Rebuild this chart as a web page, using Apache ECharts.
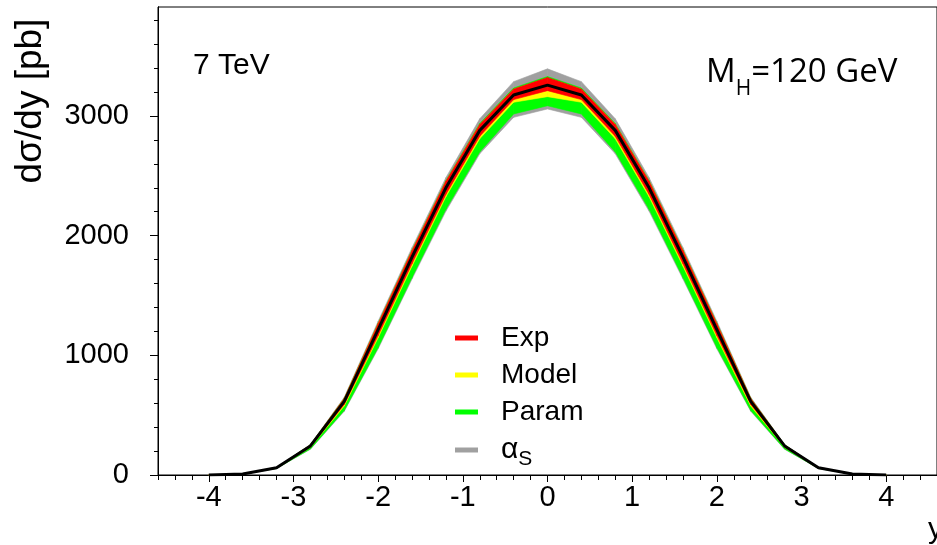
<!DOCTYPE html>
<html>
<head>
<meta charset="utf-8">
<script src="https://cdn.jsdelivr.net/npm/echarts@6/dist/echarts.min.js"></script>
<style>
    html, body { margin: 0; padding: 0; background: #fff; }
    #main { width: 937px; height: 545px; }
</style>
</head>
<body>
<div id="main"></div>
<script>
// rapidity points and d(sigma)/dy [pb]
var rapidity = [-4, -3.6, -3.2, -2.8, -2.4, -2, -1.6, -1.2, -0.8, -0.4, 0, 0.4, 0.8, 1.2, 1.6, 2, 2.4, 2.8, 3.2, 3.6, 4];
var central = [1, 8, 60, 243, 615, 1215, 1820, 2400, 2880, 3176, 3258, 3176, 2880, 2400, 1820, 1215, 615, 243, 60, 8, 1];
// band edges (lower / upper)
var alphaLo = [1, 7, 54, 215, 533, 1055, 1638, 2205, 2685, 2989, 3059, 2989, 2685, 2205, 1638, 1055, 533, 215, 54, 7, 1];
var alphaHi = [1, 8, 63, 255, 650, 1285, 1900, 2485, 2977, 3287, 3394, 3287, 2977, 2485, 1900, 1285, 650, 255, 63, 8, 1];
var paramLo = [1, 7, 55, 218, 540, 1065, 1650, 2220, 2700, 3017, 3086, 3017, 2700, 2220, 1650, 1065, 540, 218, 55, 7, 1];
var paramHi = [1, 8, 62, 252, 642, 1268, 1879, 2460, 2937, 3234, 3330, 3234, 2937, 2460, 1879, 1268, 642, 252, 62, 8, 1];
var modelLo = [1, 8, 57, 231, 577, 1147, 1745, 2325, 2810, 3115, 3162, 3115, 2810, 2325, 1745, 1147, 577, 231, 57, 8, 1];
var modelHi = [1, 8, 62, 250, 638, 1263, 1873, 2453, 2928, 3223, 3316, 3223, 2928, 2453, 1873, 1263, 638, 250, 62, 8, 1];
var expLo = [1, 8, 58, 235, 590, 1165, 1765, 2345, 2830, 3137, 3212, 3137, 2830, 2345, 1765, 1165, 590, 235, 58, 8, 1];
var expHi = [1, 8, 62, 251, 640, 1265, 1875, 2455, 2930, 3226, 3322, 3226, 2930, 2455, 1875, 1265, 640, 251, 62, 8, 1];

var xMajor = [-4, -3, -2, -1, 0, 1, 2, 3, 4];
var xMinor = [-4.6, -4.4, -4.2, -4, -3.8, -3.6, -3.4, -3.2, -3, -2.8, -2.6, -2.4, -2.2, -2, -1.8, -1.6, -1.4, -1.2, -1, -0.8, -0.6, -0.4, -0.2, 0,
    0.2, 0.4, 0.6, 0.8, 1, 1.2, 1.4, 1.6, 1.8, 2, 2.2, 2.4, 2.6, 2.8, 3, 3.2, 3.4, 3.6, 3.8, 4, 4.2, 4.4, 4.6];
var yMajor = [0, 1000, 2000, 3000];
var yMinor = [200, 400, 600, 800, 1200, 1400, 1600, 1800, 2200, 2400, 2600, 2800, 3200, 3400, 3600, 3800];

var chart = echarts.init(document.getElementById('main'));
var font = '"Liberation Sans", Arial, sans-serif';

// band segments: [x0, lo0, hi0, x1, lo1, hi1]
function segments(lo, hi) {
    var out = [];
    for (var i = 0; i < rapidity.length - 1; i++) {
        out.push([rapidity[i], lo[i], hi[i], rapidity[i + 1], lo[i + 1], hi[i + 1]]);
    }
    return out;
}

function band(name, lo, hi, color) {
    return {
        name: name,
        type: 'custom',
        silent: true,
        itemStyle: { color: color },
        encode: { x: [0, 3], y: [1, 2, 4, 5] },
        renderItem: function (params, api) {
            var pts = [
                api.coord([api.value(0), api.value(2)]),
                api.coord([api.value(3), api.value(5)]),
                api.coord([api.value(3), api.value(4)]),
                api.coord([api.value(0), api.value(1)])
            ];
            return {
                type: 'polygon',
                shape: { points: pts },
                style: { fill: color, stroke: color, lineWidth: 0.6 }
            };
        },
        data: segments(lo, hi)
    };
}

var series = [
    band('alpha', alphaLo, alphaHi, '#a0a0a0'),
    band('Param', paramLo, paramHi, '#00ff00'),
    band('Model', modelLo, modelHi, '#ffff00'),
    band('Exp', expLo, expHi, '#ff0000'),
    {
        name: 'central',
        type: 'line',
        symbol: 'none',
        silent: true,
        lineStyle: { color: '#000', width: 3 },
        data: rapidity.map(function (x, i) { return [x, central[i]]; })
    }
];

var xBase = {
    type: 'value',
    min: -4.6,
    max: 4.6,
    splitLine: { show: false },
    axisLine: { show: true, onZero: false, lineStyle: { color: '#000', width: 1 } }
};
var yBase = {
    type: 'value',
    min: 0,
    max: 3911,
    splitLine: { show: false },
    axisLine: { show: true, onZero: false, lineStyle: { color: '#000', width: 1 } }
};

chart.setOption({
    animation: false,
    backgroundColor: '#fff',
    grid: {
        left: 158,
        right: -7,
        top: 7,
        bottom: 70,
        show: true,
        borderColor: '#000',
        borderWidth: 1
    },
    xAxis: [
        Object.assign({}, xBase, {
            position: 'bottom',
            axisTick: { show: true, inside: false, length: 7, customValues: xMajor, lineStyle: { color: '#000' } },
            axisLabel: {
                show: true, customValues: xMajor, margin: 8, color: '#000', fontSize: 29, fontFamily: font,
                formatter: function (v) { return String(v); }
            }
        }),
        Object.assign({}, xBase, {
            position: 'bottom',
            axisTick: { show: true, inside: false, length: 5, customValues: xMinor, lineStyle: { color: '#000' } },
            axisLabel: { show: false }
        })
    ],
    yAxis: [
        Object.assign({}, yBase, {
            position: 'left',
            axisTick: { show: true, inside: false, length: 8, customValues: yMajor, lineStyle: { color: '#000' } },
            axisLabel: {
                show: true, customValues: yMajor, margin: 29, color: '#000', fontSize: 29, fontFamily: font,
                formatter: function (v) { return String(v); }
            }
        }),
        Object.assign({}, yBase, {
            position: 'left',
            axisTick: { show: true, inside: false, length: 4, customValues: yMinor, lineStyle: { color: '#000' } },
            axisLabel: { show: false }
        })
    ],
    legend: {
        orient: 'vertical',
        left: 450,
        top: 319,
        itemWidth: 23,
        itemHeight: 5,
        itemGap: 9,
        selectedMode: false,
        itemStyle: { borderWidth: 0 },
        textStyle: {
            color: '#000',
            fontSize: 28,
            fontFamily: font,
            lineHeight: 28,
            padding: [0, 0, 0, 18],
            rich: {
                a: { fontSize: 30, fontFamily: font, color: '#000' },
                s: { fontSize: 21, fontFamily: font, color: '#000', padding: [19, 0, 0, 0] }
            }
        },
        formatter: function (name) {
            return name === 'alpha' ? '{a|α}{s|S}' : name;
        },
        data: [
            { name: 'Exp', icon: 'rect' },
            { name: 'Model', icon: 'rect' },
            { name: 'Param', icon: 'rect' },
            { name: 'alpha', icon: 'rect' }
        ]
    },
    graphic: [{
        type: 'text',
        x: 31,
        y: 101,
        rotation: Math.PI / 2,
        style: {
            text: 'dσ/dy [pb]',
            font: '37px ' + font,
            fill: '#000',
            align: 'center',
            verticalAlign: 'middle'
        }
    }, {
        type: 'text',
        x: 193,
        y: 66,
        style: {
            text: '7 TeV',
            font: '30px ' + font,
            fill: '#000',
            align: 'left',
            verticalAlign: 'middle'
        }
    }, {
        type: 'text',
        x: 706,
        y: 73,
        style: {
            text: '{m|M}{h|H}{m|=120 GeV}',
            fill: '#000',
            align: 'left',
            verticalAlign: 'middle',
            rich: {
                m: { fontSize: 33, fontFamily: '"Open Sans", sans-serif', color: '#000' },
                h: { fontSize: 21, fontFamily: '"Open Sans", sans-serif', color: '#000', padding: [32, 0, 0, 0] }
            }
        }
    }, {
        type: 'text',
        x: 928,
        y: 530,
        style: {
            text: 'y',
            font: '30px ' + font,
            fill: '#000',
            align: 'left',
            verticalAlign: 'middle'
        }
    }],
    series: series
});
</script>
</body>
</html>
